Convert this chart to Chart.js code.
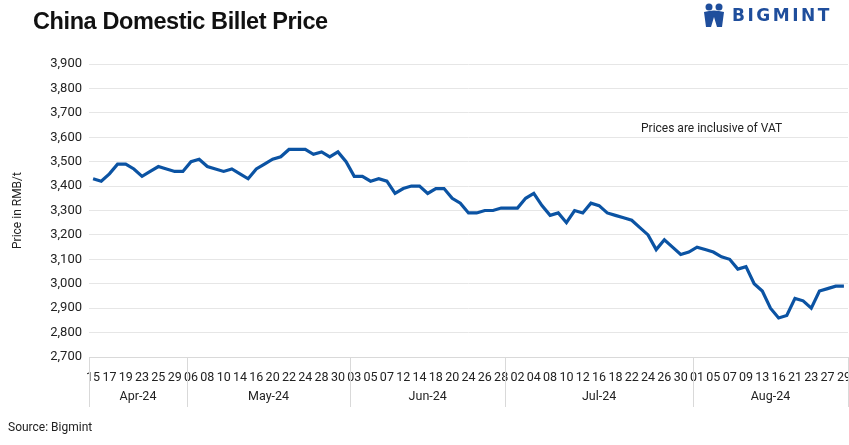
<!DOCTYPE html>
<html>
<head>
<meta charset="utf-8">
<script src="https://cdn.jsdelivr.net/npm/chart.js@4/dist/chart.umd.min.js"></script>
<style>
  html, body { margin: 0; padding: 0; background: #fff; }
  #wrap { position: relative; width: 849px; height: 445px; overflow: hidden; }
  #chart { position: absolute; left: 0; top: 0; }
  .title { position: absolute; left: 33px; top: 8px; font: bold 23.5px "Liberation Sans", Arial, sans-serif; letter-spacing: -0.4px; color: #111; }
  .logo { position: absolute; left: 700px; top: 2px; display: flex; align-items: center; }
  .logo span { font: bold 17px "DejaVu Sans", sans-serif; letter-spacing: 2.5px; color: #1f4e9c; margin-left: 4px; }
  .note { position: absolute; left: 641px; top: 121px; font: 12px Roboto, sans-serif; color: #222; }
  .source { position: absolute; left: 8px; top: 420px; font: 12px Roboto, sans-serif; color: #222; }
</style>
</head>
<body>
<div id="wrap">
  <canvas id="chart" width="849" height="445"></canvas>
  <div class="title">China Domestic Billet Price</div>
  <div class="logo">
    <svg width="28" height="26" viewBox="0 0 28 26">
      <circle cx="9" cy="5" r="3.5" fill="#1f4e9c"/>
      <circle cx="19" cy="5" r="3.5" fill="#1f4e9c"/>
      <path d="M4 10 Q14 7 24 10 L22 25 L17 25 L14 15 L11 25 L6 25 Z" fill="#1f4e9c"/>
    </svg>
    <span>BIGMINT</span>
  </div>
  <div class="note">Prices are inclusive of VAT</div>
  <div class="source">Source: Bigmint</div>
</div>
<script>
// ── Data ──────────────────────────────────────────────────
const monthNames  = ['Apr-24', 'May-24', 'Jun-24', 'Jul-24', 'Aug-24'];
const monthCounts = [12, 20, 19, 23, 19];

const days = [
  '15','16','17','18','19','22','23','24','25','26','29','30',
  '06','07','08','09','10','13','14','15','16','17','20','21','22','23','24','27','28','29','30','31',
  '03','04','05','06','07','11','12','13','14','17','18','19','20','21','24','25','26','27','28',
  '01','02','03','04','05','08','09','10','11','12','15','16','17','18','19','22','23','24','25','26','29','30','31',
  '01','02','05','06','07','08','09','12','13','14','16','20','21','22','23','26','27','28','29'
];

const prices = [
  3430, 3420, 3450, 3490, 3490, 3470, 3440, 3460, 3480, 3470, 3460, 3460,
  3500, 3510, 3480, 3470, 3460, 3470, 3450, 3430, 3470, 3490, 3510, 3520, 3550, 3550, 3550, 3530, 3540, 3520, 3540, 3500,
  3440, 3440, 3420, 3430, 3420, 3370, 3390, 3400, 3400, 3370, 3390, 3390, 3350, 3330, 3290, 3290, 3300, 3300, 3310,
  3310, 3310, 3350, 3370, 3320, 3280, 3290, 3250, 3300, 3290, 3330, 3320, 3290, 3280, 3270, 3260, 3230, 3200, 3140, 3180, 3150, 3120, 3130,
  3150, 3140, 3130, 3110, 3100, 3060, 3070, 3000, 2970, 2900, 2860, 2870, 2940, 2930, 2900, 2970, 2980, 2990, 2990
];

const yMin = 2700, yMax = 3900, yStep = 100;

// ── Month group row under the day labels ──────────────────
const monthAxis = {
  id: 'monthAxis',
  afterDraw(chart) {
    const { ctx, chartArea, scales: { x } } = chart;
    const half = (x.getPixelForValue(1) - x.getPixelForValue(0)) / 2;
    const bottom = chartArea.bottom + 50;
    ctx.save();
    ctx.strokeStyle = '#d9d9d9';
    ctx.lineWidth = 1;
    ctx.fillStyle = '#222';
    ctx.font = '12.5px Roboto, sans-serif';
    ctx.textAlign = 'center';
    ctx.textBaseline = 'middle';
    let start = 0;
    monthNames.forEach((name, m) => {
      const end = start + monthCounts[m] - 1;
      const left = x.getPixelForValue(start) - half;
      const right = x.getPixelForValue(end) + half;
      [left, right].forEach(px => {
        const p = Math.min(Math.round(px), chart.width - 1) + 0.5;
        ctx.beginPath();
        ctx.moveTo(p, chartArea.bottom);
        ctx.lineTo(p, bottom);
        ctx.stroke();
      });
      ctx.fillText(name, (left + right) / 2, chartArea.bottom + 40);
      start = end + 1;
    });
    ctx.restore();
  }
};

new Chart(document.getElementById('chart'), {
  type: 'line',
  data: {
    labels: days,
    datasets: [{
      data: prices,
      borderColor: '#0b53a3',
      borderWidth: 3.2,
      pointRadius: 0,
      tension: 0,
      fill: false
    }]
  },
  options: {
    responsive: false,
    animation: false,
    layout: { padding: { left: 7, top: 64, right: 1, bottom: 28 } },
    plugins: { legend: { display: false }, tooltip: { enabled: false } },
    scales: {
      x: {
        offset: true,
        grid: { display: false },
        border: { display: true, color: '#d9d9d9' },
        ticks: {
          autoSkip: false,
          maxRotation: 0,
          minRotation: 0,
          padding: 5,
          color: '#222',
          font: { family: 'Roboto', size: 12.5 },
          callback: (v, i) => (i % 2 === 0 ? days[i] : '')
        },
        afterFit: s => { s.height = 60; s.paddingLeft = 0; s.paddingRight = 0; }
      },
      y: {
        min: yMin,
        max: yMax,
        grid: { color: '#e6e6e6', drawTicks: false },
        border: { display: false },
        ticks: {
          stepSize: yStep,
          padding: 7,
          color: '#222',
          font: { family: 'Roboto', size: 13 },
          callback: v => v.toLocaleString('en-US')
        },
        title: {
          display: true,
          text: 'Price in RMB/t',
          color: '#222',
          font: { family: 'Roboto', size: 12 }
        },
        afterFit: s => { s.width = 82; }
      }
    }
  },
  plugins: [monthAxis]
});
</script>
</body>
</html>
